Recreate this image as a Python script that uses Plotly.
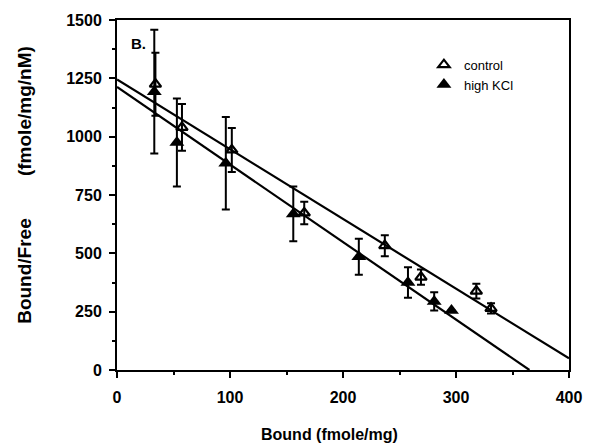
import plotly.graph_objects as go

# ---- data ----
control_x = [34, 57.5, 101.6, 165.7, 237, 269, 318, 331]
control_y = [1225, 1040, 943, 673, 533, 398, 338, 264]
control_err = [135, 100, 94, 48, 45, 33, 32, 22]

kcl_x = [33, 53, 96.3, 156, 214, 257.5, 280.7, 296]
kcl_y = [1193, 975, 886, 669, 485, 375, 294, 255]
kcl_err = [265, 189, 198, 117, 77, 65, 39, 0]

# fitted Scatchard lines (end points)
control_fit_x = [0, 400]
control_fit_y = [1245, 50]
kcl_fit_x = [0, 365]
kcl_fit_y = [1213, 0]

x_ticks = [0, 100, 200, 300, 400]
y_ticks = [0, 250, 500, 750, 1000, 1250, 1500]

# ---- layout geometry (pixels) ----
W, H = 594, 444
L, R, T, B = 117, 19, 17, 74
pw, ph = W - L - R, H - T - B


def px(xp):
    return (xp - L) / pw


def py(yp):
    return (H - B - yp) / ph


fig = go.Figure()

fig.add_trace(go.Scatter(x=control_fit_x, y=control_fit_y, mode="lines",
                         line=dict(color="black", width=2.2),
                         showlegend=False, hoverinfo="skip"))
fig.add_trace(go.Scatter(x=kcl_fit_x, y=kcl_fit_y, mode="lines",
                         line=dict(color="black", width=2.2),
                         showlegend=False, hoverinfo="skip"))

fig.add_trace(go.Scatter(
    x=kcl_x, y=kcl_y, mode="markers", name="high KCl",
    marker=dict(symbol="triangle-up", size=13, color="black"),
    error_y=dict(type="data", array=kcl_err, color="black", thickness=2, width=4)))
fig.add_trace(go.Scatter(
    x=control_x, y=control_y, mode="markers", name="control",
    marker=dict(symbol="triangle-up-open", size=10, color="black",
                line=dict(width=2.2, color="black")),
    error_y=dict(type="data", array=control_err, color="black", thickness=2, width=4)))

tickfont = dict(family="Liberation Sans, Arial", size=16, color="black", weight="bold")

fig.update_xaxes(
    range=[0, 400], tickvals=x_ticks, ticktext=[str(v) for v in x_ticks],
    showgrid=False, zeroline=False, showline=True, linecolor="black", linewidth=2,
    mirror=True, ticks="outside", ticklen=6, tickwidth=2, tickcolor="black",
    tickfont=tickfont, ticklabelstandoff=6,
    minor=dict(dtick=50, tick0=0, ticks="outside", ticklen=3, tickwidth=1.5,
               tickcolor="black", showgrid=False))
fig.update_yaxes(
    range=[0, 1500], tickvals=y_ticks, ticktext=[str(v) for v in y_ticks],
    showgrid=False, zeroline=False, showline=True, linecolor="black", linewidth=2,
    mirror=True, ticks="outside", ticklen=6, tickwidth=2, tickcolor="black",
    tickfont=tickfont, ticklabelstandoff=4,
    minor=dict(dtick=125, tick0=0, ticks="outside", ticklen=3, tickwidth=1.5,
               tickcolor="black", showgrid=False))

fig.add_annotation(
    x=px(23), y=py(183), xref="paper", yref="paper", showarrow=False,
    textangle=-90, xanchor="center", yanchor="middle",
    text="Bound/Free" + "\u00a0" * 8 + "(fmole/mg/nM)",
    font=dict(family="Liberation Sans, Arial", size=19, color="black", weight="bold"))
fig.add_annotation(
    x=px(332), y=py(435), xref="paper", yref="paper", showarrow=False,
    xanchor="center", yanchor="middle", text="Bound (fmole/mg)",
    font=dict(family="Liberation Sans, Arial", size=16, color="black", weight="bold"))
fig.add_annotation(
    x=px(129), y=py(41), xref="paper", yref="paper", showarrow=False,
    xanchor="left", yanchor="middle", text="B.",
    font=dict(family="Liberation Sans, Arial", size=15, color="black", weight="bold"))

fig.update_layout(
    width=W, height=H, margin=dict(l=L, r=R, t=T, b=B),
    paper_bgcolor="white", plot_bgcolor="white",
    legend=dict(x=px(428), y=py(47), xanchor="left", yanchor="top",
                traceorder="reversed", bgcolor="rgba(0,0,0,0)",
                font=dict(family="Liberation Sans, Arial", size=13, color="black")),
    showlegend=True)

post = (
    "document.documentElement.style.margin='0';"
    "document.documentElement.style.overflow='hidden';"
    "document.body.style.margin='0';"
    "document.body.style.padding='0';"
    "document.body.style.overflow='hidden';"
    "document.body.style.height='444px';"
    "var gd=document.getElementById('{plot_id}');"
    "gd.style.display='block';"
    "if(gd.parentElement){gd.parentElement.style.display='block';"
    "gd.parentElement.style.height='444px';gd.parentElement.style.overflow='hidden';}"
    "var sc=gd.querySelector('.svg-container');if(sc){sc.style.display='block';}"
)

fig.write_html("out.html", config={"displayModeBar": False}, post_script=post)
